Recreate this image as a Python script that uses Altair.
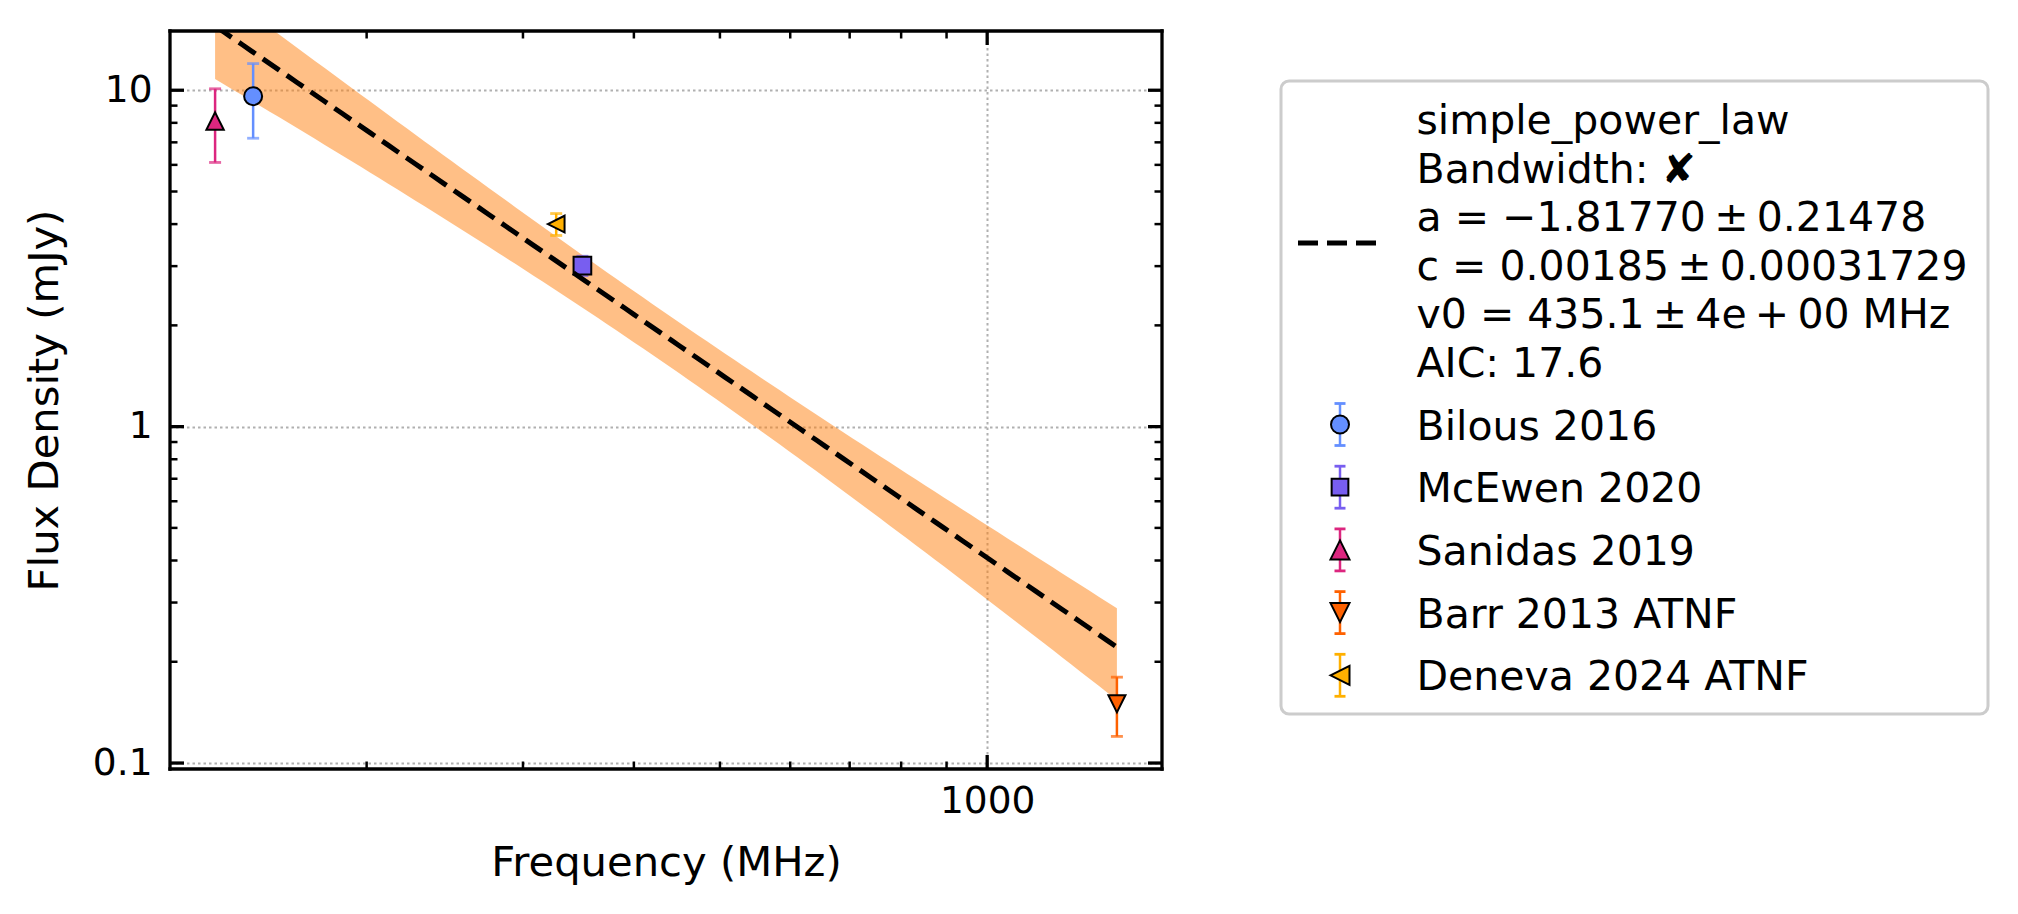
import numpy as np
import pandas as pd
import altair as alt

# ---- flux density measurements ----
labels = ["Bilous 2016", "McEwen 2020", "Sanidas 2019", "Barr 2013 ATNF", "Deneva 2024 ATNF"]
freqs = [149.0, 350.0, 135.0, 1400.0, 327.0]          # MHz
fluxes = [9.6, 3.01, 8.1, 0.15, 4.0]                   # mJy
flux_errs = [2.4, 0.2, 2.0, 0.03, 0.3]                 # mJy
colors = ["#648FFF", "#785EF0", "#DC267F", "#FE6100", "#FFB000"]
shapes = ["circle", "square", "M0,-1L1,1L-1,1Z", "M0,1L1,-1L-1,-1Z", "M-1,0L1,-1L1,1Z"]
marker_sizes = [324, 280, 361, 361, 361]

# ---- simple_power_law fit result ----
fit_a, fit_a_err = -1.81770, 0.21478
fit_c, fit_c_err = 0.00185, 0.00031729      # Jy
fit_v0, fit_v0_err = 435.1, 4.0             # MHz
fit_aic = 17.6

# axis ticks
x_major = [1000]
x_minor = [200, 300, 400, 500, 600, 700, 800, 900]
y_major = [0.1, 1, 10]
y_minor = [0.2, 0.3, 0.4, 0.5, 0.6, 0.7, 0.8, 0.9, 2, 3, 4, 5, 6, 7, 8, 9]

FONT = "DejaVu Sans"
W, H = 992, 738
FIT_DASH = [20, 9]
FIT_WIDTH = 5

pts = pd.DataFrame({
    "label": labels,
    "freq": freqs,
    "flux": fluxes,
    "lo": np.array(fluxes) - np.array(flux_errs),
    "hi": np.array(fluxes) + np.array(flux_errs),
})

# model curve and 1-sigma band
fit_freqs = np.logspace(np.log10(min(freqs)), np.log10(max(freqs)), 100)
model = fit_c * 1000 * (fit_freqs / fit_v0) ** fit_a
rel_err = np.sqrt((np.log(fit_freqs / fit_v0) * fit_a_err) ** 2
                  + (fit_c_err / fit_c) ** 2
                  + (fit_a * fit_v0_err / fit_v0) ** 2)
fit_df = pd.DataFrame({"freq": fit_freqs, "flux": model,
                       "lo": model * (1 - rel_err), "hi": model * (1 + rel_err)})

# axis limits: 5% log margins in x, padded error range in y
lx0, lx1 = np.log10(min(freqs)), np.log10(max(freqs))
span = lx1 - lx0
x_dom = [10 ** (lx0 - 0.05 * span), 10 ** (lx1 + 0.05 * span)]
y_dom = [float(min(pts["lo"]) * 0.8), float(max(pts["hi"]) * 1.25)]

xs = alt.Scale(type="log", domain=x_dom, nice=False)
ys = alt.Scale(type="log", domain=y_dom, nice=False)

grid_style = dict(grid=True, gridColor="#b0b0b0", gridDash=[2.5, 3], gridWidth=2,
                  ticks=False, tickSize=0, domain=False,
                  labelFont=FONT, labelFontSize=37.5, labelColor="black",
                  titleFont=FONT, titleFontSize=41.7, titleFontWeight="normal",
                  titleColor="black")
x_axis = alt.Axis(values=x_major, format="~g", title="Frequency (MHz)",
                  labelPadding=13, titleY=106, titleBaseline="alphabetic", **grid_style)
y_axis = alt.Axis(values=y_major, format="~g", title="Flux Density (mJy)",
                  labelPadding=18, titleAngle=270, titleX=-113, titleY=H / 2,
                  titleAlign="center", titleBaseline="alphabetic", **grid_style)

X = lambda f: alt.X(f, scale=xs, axis=x_axis)
Y = lambda f: alt.Y(f, scale=ys, axis=y_axis)
col = alt.Color("label:N", scale=alt.Scale(domain=labels, range=colors), legend=None)

one = pd.DataFrame({"k": [0]})
layers = []

# uncertainty band
band = alt.Chart(fit_df).mark_area(clip=True, color="#ff7f0e", opacity=0.5).encode(
    x=X("freq:Q"), y=Y("lo:Q"), y2="hi:Q")
layers.append(band)

# error bars, caps, markers
err = alt.Chart(pts).mark_rule(strokeWidth=2.5).encode(x=X("freq:Q"), y=Y("lo:Q"), y2="hi:Q", color=col)
cap_lo = alt.Chart(pts).mark_tick(orient="horizontal", size=12, thickness=2.8).encode(
    x=X("freq:Q"), y=Y("lo:Q"), color=col)
cap_hi = alt.Chart(pts).mark_tick(orient="horizontal", size=12, thickness=2.8).encode(
    x=X("freq:Q"), y=Y("hi:Q"), color=col)
marks = alt.Chart(pts).mark_point(filled=True, stroke="black", strokeWidth=2, opacity=1).encode(
    x=X("freq:Q"), y=Y("flux:Q"),
    fill=alt.Fill("label:N", scale=alt.Scale(domain=labels, range=colors), legend=None),
    shape=alt.Shape("label:N", scale=alt.Scale(domain=labels, range=shapes), legend=None),
    size=alt.Size("label:N", scale=alt.Scale(domain=labels, range=marker_sizes), legend=None))
layers += [err, cap_lo, cap_hi, marks]

# fitted power law
line = alt.Chart(fit_df).mark_line(clip=True, color="black", strokeWidth=FIT_WIDTH, strokeDash=FIT_DASH).encode(
    x=X("freq:Q"), y=Y("flux:Q"))
layers.append(line)

# inward ticks on all four sides
def yticks(vals, length, width):
    d = pd.DataFrame({"v": vals})
    left = alt.Chart(d).mark_rule(color="black", strokeWidth=width).encode(
        y=Y("v:Q"), x=alt.value(0), x2=alt.value(length))
    right = alt.Chart(d).mark_rule(color="black", strokeWidth=width).encode(
        y=Y("v:Q"), x=alt.value(W - length), x2=alt.value(W))
    return [left, right]

def xticks(vals, length, width):
    d = pd.DataFrame({"v": vals})
    bottom = alt.Chart(d).mark_rule(color="black", strokeWidth=width).encode(
        x=X("v:Q"), y=alt.value(H - length), y2=alt.value(H))
    top = alt.Chart(d).mark_rule(color="black", strokeWidth=width).encode(
        x=X("v:Q"), y=alt.value(0), y2=alt.value(length))
    return [bottom, top]

layers += yticks(y_major, 14, 3.3) + yticks(y_minor, 7.5, 2.5)
layers += xticks(x_major, 14, 3.3) + xticks(x_minor, 7.5, 2.5)

# axes frame
frame = dict(color="black", strokeWidth=3.3, strokeCap="square")
layers += [
    alt.Chart(one).mark_rule(**frame).encode(x=alt.value(0), x2=alt.value(W), y=alt.value(0)),
    alt.Chart(one).mark_rule(**frame).encode(x=alt.value(0), x2=alt.value(W), y=alt.value(H)),
    alt.Chart(one).mark_rule(**frame).encode(x=alt.value(0), y=alt.value(0), y2=alt.value(H)),
    alt.Chart(one).mark_rule(**frame).encode(x=alt.value(W), y=alt.value(0), y2=alt.value(H)),
]

# ---- legend box to the right of the axes ----
LX0, LX1, LY0, LY1 = 1111, 1818, 50, 683
layers.append(alt.Chart(one).mark_rect(fill="white", stroke="#cccccc", strokeWidth=3, cornerRadius=8).encode(
    x=alt.value(LX0), x2=alt.value(LX1), y=alt.value(LY0), y2=alt.value(LY1)))

TS = "\u2009"  # thin space around binary operators
fit_lines = [
    "simple_power_law",
    "Bandwidth: \u2718",
    f"a = {fit_a:.5f}{TS}\u00b1{TS}{fit_a_err:.5f}".replace("-", "\u2212"),
    f"c = {fit_c:.5f}{TS}\u00b1{TS}{fit_c_err:.8f}",
    f"v0 = {fit_v0:.1f}{TS}\u00b1{TS}{fit_v0_err:.0e} MHz".replace("e+", f"e{TS}+{TS}"),
    f"AIC: {fit_aic:.1f}",
]
TEXT_X = 1246.5
HANDLE_X = 1170
layers.append(alt.Chart(one).mark_rule(color="black", strokeWidth=FIT_WIDTH, strokeDash=FIT_DASH).encode(
    x=alt.value(1128), x2=alt.value(1212), y=alt.value(212)))
layers.append(alt.Chart(one).mark_text(text=fit_lines, lineHeight=48.5, align="left", baseline="alphabetic",
                                       font=FONT, fontSize=41, color="black").encode(
    x=alt.value(TEXT_X), y=alt.value(103)))

for i, (lab, c, shp, sz) in enumerate(zip(labels, colors, shapes, marker_sizes)):
    base = 408.5 + 62.7 * i
    cy = base - 15
    layers.append(alt.Chart(one).mark_rule(color=c, strokeWidth=2.5).encode(
        x=alt.value(HANDLE_X), y=alt.value(cy - 21), y2=alt.value(cy + 21)))
    for yy in (cy - 21, cy + 21):
        layers.append(alt.Chart(one).mark_rule(color=c, strokeWidth=2.8).encode(
            x=alt.value(HANDLE_X - 5.5), x2=alt.value(HANDLE_X + 5.5), y=alt.value(yy)))
    layers.append(alt.Chart(one).mark_point(filled=True, fill=c, stroke="black", strokeWidth=2,
                                            opacity=1, shape=shp, size=sz).encode(
        x=alt.value(HANDLE_X), y=alt.value(cy)))
    layers.append(alt.Chart(one).mark_text(text=lab, align="left", baseline="alphabetic",
                                           font=FONT, fontSize=41, color="black").encode(
        x=alt.value(TEXT_X), y=alt.value(base)))

chart = alt.layer(*layers).properties(
    width=W, height=H,
    autosize=alt.AutoSizeParams(type="none"),
    padding={"left": 170, "top": 31, "right": 2018 - 170 - W, "bottom": 914 - 31 - H},
    background="white",
).configure_view(stroke="transparent")

chart.save("out.html", embed_options={"renderer": "svg", "actions": False})
